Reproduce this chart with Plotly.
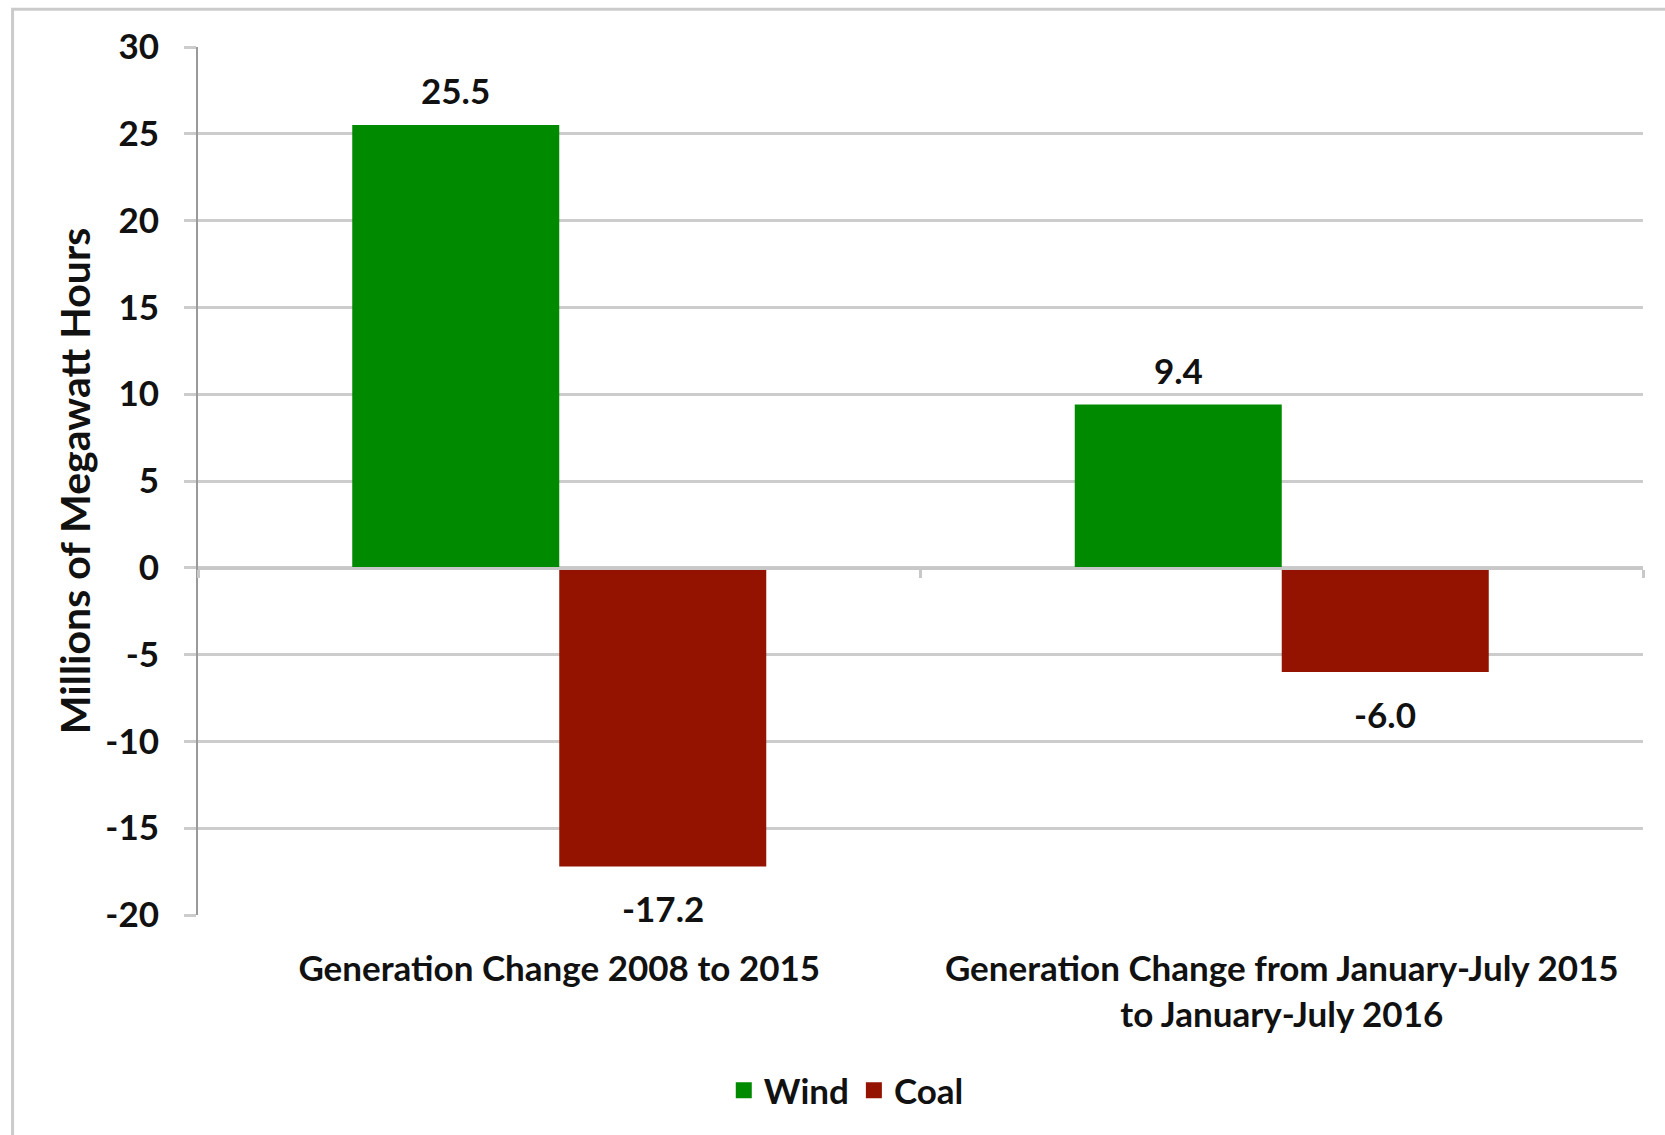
import plotly.graph_objects as go

categories = ["Generation Change 2008 to 2015",
              "Generation Change from January-July 2015<br>to January-July 2016"]
series_names = ["Wind", "Coal"]
wind_values = [25.5, 9.4]
coal_values = [-17.2, -6.0]
y_ticks = [30, 25, 20, 15, 10, 5, 0, -5, -10, -15, -20]

colors = {"Wind": "#008a00", "Coal": "#931300"}
FONT = "Lato"
FS = 35
BARGAP = 0.427

W, H = 1665, 1135
L, R, T, B = 197.5, 22, 46.7, 219.6
pw, ph = W - L - R, H - T - B

fig = go.Figure()
idx = list(range(len(categories)))
for name, vals in [("Wind", wind_values), ("Coal", coal_values)]:
    fig.add_trace(go.Bar(x=idx, y=vals, name=name, showlegend=False,
                         marker=dict(color=colors[name], line=dict(width=0))))
# legend entries with larger square symbols
for name in series_names:
    fig.add_trace(go.Scatter(x=[None], y=[None], name=name, mode="markers",
                             marker=dict(symbol="square", size=20, color=colors[name])))

# value labels
half = (1 - BARGAP) / 4
for k, (name, vals) in enumerate([("Wind", wind_values), ("Coal", coal_values)]):
    off = -half if k == 0 else half
    for i, v in enumerate(vals):
        fig.add_annotation(x=i + off, y=v, xref="x", yref="y", text=f"{v:.1f}",
                           showarrow=False, yanchor="middle",
                           yshift=35 if v >= 0 else -42,
                           font=dict(family=FONT, size=FS, color="#111111", weight=700))

# chart border (top and left)
fig.add_shape(type="rect", xref="paper", yref="paper",
              x0=(12 - L) / pw, x1=1.5, y0=-1, y1=1 + (T - 9) / ph,
              line=dict(color="#cbcbcb", width=3), fillcolor="rgba(0,0,0,0)", layer="below")

fig.update_layout(
    width=W, height=H,
    margin=dict(l=L, r=R, t=T, b=B, autoexpand=False),
    paper_bgcolor="white", plot_bgcolor="white",
    barmode="group", bargap=BARGAP, bargroupgap=0,
    font=dict(family=FONT, size=FS, color="#111111", weight=700),
    showlegend=True,
    legend=dict(orientation="h", xanchor="center", yanchor="middle",
                x=(846 - L) / pw, y=(T + ph - 1091) / ph,
                font=dict(family=FONT, size=FS, weight=700), itemwidth=30,
                traceorder="normal"),
    xaxis=dict(type="linear", range=[-0.5, 1.5], tickvals=idx, ticktext=categories,
               showline=False, ticks="", showgrid=False, zeroline=False,
               ticklabelstandoff=30,
               tickfont=dict(family=FONT, size=FS, weight=700)),
    xaxis2=dict(overlaying="x", anchor="free", position=20 / 50, range=[-0.5, 1.5],
                tickvals=[-0.5, 0.5, 1.5], showticklabels=False, ticks="outside",
                ticklen=8, tickwidth=3, tickcolor="#c8c8c8",
                showline=True, linecolor="#c8c8c8", linewidth=3, showgrid=False, zeroline=False),
    yaxis=dict(range=[-20, 30], tickvals=y_ticks, ticktext=[str(v) for v in y_ticks],
               showgrid=True, gridcolor="#cccccc", gridwidth=3,
               zeroline=False, showline=True, linecolor="#9a9a9a", linewidth=2,
               ticks="outside", ticklen=12, tickwidth=3, tickcolor="#cccccc",
               ticklabelstandoff=18,
               tickfont=dict(family=FONT, size=FS, weight=700),
               title=dict(text="Millions of Megawatt Hours", standoff=2,
                          font=dict(family=FONT, size=41, weight=700))),
)
# dummy invisible trace to ensure xaxis2 renders
fig.add_trace(go.Scatter(x=[0], y=[0], xaxis="x2", yaxis="y", mode="markers",
                         marker=dict(opacity=0), showlegend=False, hoverinfo="skip"))

fig.write_html("out.html", config={"displayModeBar": False},
               post_script="document.body.style.margin='0';")
